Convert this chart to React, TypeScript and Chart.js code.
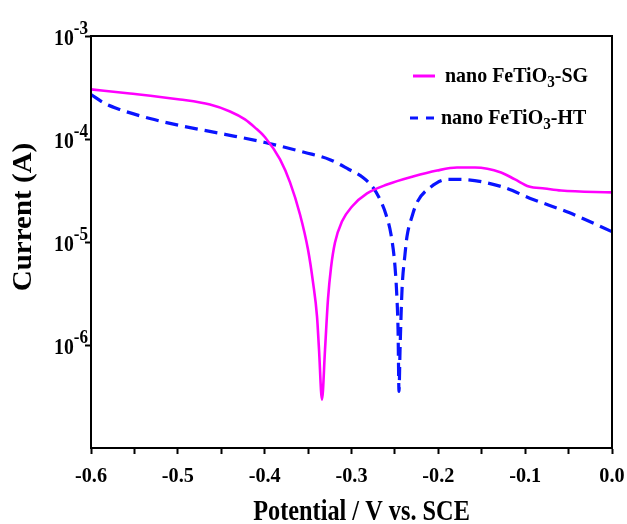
import React, { useEffect, useRef } from 'react';
import { Chart, registerables } from 'chart.js';

Chart.register(...registerables);

// ---- data ----
const sgPotential = [-0.6, -0.5551, -0.4975, -0.463, -0.4399, -0.4227, -0.4111, -0.3996, -0.3823, -0.3708, -0.3593, -0.3501, -0.3443, -0.3397, -0.3374, -0.334, -0.3305, -0.3271, -0.3236, -0.319, -0.311, -0.2994, -0.2821, -0.2591, -0.2292, -0.2015, -0.1785, -0.1578, -0.1278, -0.1117, -0.0956, -0.0775, -0.0587, 0.0];
const sgCurrent = [3.03e-4, 2.77e-4, 2.42e-4, 2.16e-4, 1.85e-4, 1.55e-4, 1.29e-4, 1.04e-4, 6.33e-5, 3.79e-5, 1.85e-5, 8.45e-6, 4.05e-6, 1.89e-6, 9.0e-7, 2.95e-7, 9.0e-7, 2.77e-6, 5.65e-6, 9.9e-6, 1.58e-5, 2.21e-5, 2.96e-5, 3.61e-5, 4.32e-5, 4.94e-5, 5.28e-5, 5.28e-5, 4.73e-5, 4.05e-5, 3.46e-5, 3.31e-5, 3.16e-5, 3.03e-5];

const htPotential = [-0.6, -0.5839, -0.5666, -0.5321, -0.4975, -0.4457, -0.3996, -0.3536, -0.3248, -0.3029, -0.2868, -0.2752, -0.2672, -0.2603, -0.2545, -0.2499, -0.2476, -0.2464, -0.2453, -0.2441, -0.2418, -0.2384, -0.2361, -0.2303, -0.2246, -0.2096, -0.19, -0.175, -0.1278, -0.0909, -0.0495, 0.0];
const htCurrent = [2.7e-4, 2.21e-4, 1.93e-4, 1.58e-4, 1.35e-4, 1.11e-4, 9.25e-5, 7.4e-5, 6.3e-5, 5.06e-5, 4.23e-5, 3.38e-5, 2.59e-5, 1.85e-5, 1.18e-5, 5.78e-6, 2.77e-6, 1.42e-6, 3.54e-7, 9.0e-7, 3.46e-6, 7.57e-6, 1.13e-5, 1.77e-5, 2.42e-5, 3.38e-5, 4.05e-5, 4.05e-5, 3.46e-5, 2.59e-5, 1.93e-5, 1.26e-5];

const xMajorTicks = [-0.6, -0.5, -0.4, -0.3, -0.2, -0.1, 0.0];
const xTickLabels = ['-0.6', '-0.5', '-0.4', '-0.3', '-0.2', '-0.1', '0.0'];
const xMinorTicks = [-0.55, -0.45, -0.35, -0.25, -0.15, -0.05];
const yTickValues = [1e-6, 1e-5, 1e-4, 1e-3];
const yTickExponents = ['-6', '-5', '-4', '-3'];

const seriesLabels = ['nano FeTiO\u2083-SG', 'nano FeTiO\u2083-HT'];
const legendParts = [
  { pre: 'nano FeTiO', sub: '3', post: '-SG' },
  { pre: 'nano FeTiO', sub: '3', post: '-HT' },
];
const xTitle = 'Potential / V vs. SCE';
const yTitle = 'Current (A)';

const SG_COLOR = '#ff00ff';
const HT_COLOR = '#0a14ff';
const FONT = '"Liberation Serif", "Times New Roman", serif';

function drawText(ctx: CanvasRenderingContext2D, text: string, x: number, y: number, align: CanvasTextAlign, font: string, sx: number) {
  ctx.save();
  ctx.translate(x, y);
  ctx.scale(sx, 1);
  ctx.font = font;
  ctx.textAlign = align;
  ctx.textBaseline = 'alphabetic';
  ctx.fillStyle = '#000';
  ctx.fillText(text, 0, 0);
  ctx.restore();
}

function measure(ctx: CanvasRenderingContext2D, text: string, font: string, sx: number) {
  ctx.save();
  ctx.font = font;
  const w = ctx.measureText(text).width * sx;
  ctx.restore();
  return w;
}

const decorPlugin = {
  id: 'decor',
  afterDraw(chart: any) {
    const ctx: CanvasRenderingContext2D = chart.ctx;
    const a = chart.chartArea;
    const xs = chart.scales.x;
    const ys = chart.scales.y;

    // frame
    ctx.save();
    ctx.strokeStyle = '#000';
    ctx.lineWidth = 2;
    ctx.strokeRect(a.left, a.top, a.right - a.left, a.bottom - a.top);
    ctx.restore();

    // x tick labels
    const xFont = `bold 22px ${FONT}`;
    xMajorTicks.forEach((v, i) => {
      const px = xs.getPixelForValue(v);
      drawText(ctx, xTickLabels[i], px, a.bottom + 34, 'center', xFont, 0.92);
    });

    // y tick labels 10^n
    const mainFont = `bold 24px ${FONT}`;
    const supFont = `bold 18px ${FONT}`;
    const rightEdge = a.left - 3;
    yTickValues.forEach((v, i) => {
      const py = ys.getPixelForValue(v);
      const supW = measure(ctx, yTickExponents[i], supFont, 0.95);
      drawText(ctx, yTickExponents[i], rightEdge - supW, py - 2, 'left', supFont, 0.95);
      drawText(ctx, '10', rightEdge - supW, py + 9, 'right', mainFont, 0.82);
    });

    // axis titles
    drawText(ctx, xTitle, (a.left + a.right) / 2 + 10, 520, 'center', `bold 30px ${FONT}`, 0.81);
    ctx.save();
    ctx.translate(31, (a.top + a.bottom) / 2 - 25);
    ctx.scale(0.95, 1);
    ctx.rotate(-Math.PI / 2);
    ctx.font = `bold 29px ${FONT}`;
    ctx.textAlign = 'center';
    ctx.textBaseline = 'alphabetic';
    ctx.fillStyle = '#000';
    ctx.fillText(yTitle, 0, 0);
    ctx.restore();

    // legend
    const legFont = `bold 21px ${FONT}`;
    const subFont = `bold 16px ${FONT}`;
    const rows = [
      { y: 76, x0: 413, x1: 435, tx: 445, color: SG_COLOR, dash: [] as number[], lw: 3 },
      { y: 118, x0: 410, x1: 439, tx: 441, color: HT_COLOR, dash: [8, 8], lw: 3 },
    ];
    rows.forEach((r, i) => {
      ctx.save();
      ctx.strokeStyle = r.color;
      ctx.lineWidth = r.lw;
      ctx.setLineDash(r.dash);
      ctx.beginPath();
      ctx.moveTo(r.x0, r.y);
      ctx.lineTo(r.x1, r.y);
      ctx.stroke();
      ctx.restore();
      const p = legendParts[i];
      const sx = 0.95;
      let x = r.tx;
      const base = r.y + 6;
      drawText(ctx, p.pre, x, base, 'left', legFont, sx);
      x += measure(ctx, p.pre, legFont, sx);
      drawText(ctx, p.sub, x, base + 5, 'left', subFont, sx);
      x += measure(ctx, p.sub, subFont, sx);
      drawText(ctx, p.post, x, base, 'left', legFont, sx);
    });
  },
};

export default function App() {
  const ref = useRef<HTMLCanvasElement | null>(null);

  useEffect(() => {
    document.body.style.margin = '0';
    const canvas = ref.current;
    if (!canvas) return;
    const chart = new Chart(canvas, {
      type: 'line',
      data: {
        datasets: [
          {
            label: seriesLabels[0],
            data: sgPotential.map((x, i) => ({ x, y: sgCurrent[i] })),
            borderColor: SG_COLOR,
            borderWidth: 2.6,
            pointRadius: 0,
            cubicInterpolationMode: 'monotone',
            fill: false,
          },
          {
            label: seriesLabels[1],
            data: htPotential.map((x, i) => ({ x, y: htCurrent[i] })),
            borderColor: HT_COLOR,
            borderWidth: 3.2,
            borderDash: [13, 7],
            pointRadius: 0,
            cubicInterpolationMode: 'monotone',
            fill: false,
          },
        ],
      },
      options: {
        responsive: false,
        animation: false,
        parsing: false as any,
        layout: { padding: { left: 0, top: 36, right: 15, bottom: 0 } },
        plugins: {
          legend: { display: false },
          tooltip: { enabled: false },
          title: { display: false },
        },
        scales: {
          x: {
            type: 'linear',
            min: -0.6,
            max: 0.0,
            afterBuildTicks: (scale: any) => {
              scale.ticks = [...xMajorTicks, ...xMinorTicks].sort((p, q) => p - q).map((v) => ({ value: v }));
            },
            afterFit: (scale: any) => {
              scale.height = 76;
            },
            ticks: { display: false },
            grid: {
              display: true,
              drawOnChartArea: false,
              drawTicks: true,
              tickLength: 6,
              tickWidth: 2,
              tickColor: '#000',
            },
            border: { display: true, color: '#000', width: 2 },
          },
          y: {
            type: 'logarithmic',
            min: 1e-7,
            max: 1e-3,
            afterBuildTicks: (scale: any) => {
              scale.ticks = yTickValues.map((v) => ({ value: v }));
            },
            afterFit: (scale: any) => {
              scale.width = 91;
            },
            ticks: { display: false },
            grid: {
              display: true,
              drawOnChartArea: false,
              drawTicks: true,
              tickLength: 6,
              tickWidth: 2,
              tickColor: '#000',
            },
            border: { display: true, color: '#000', width: 2 },
          },
        },
      },
      plugins: [decorPlugin],
    });
    return () => chart.destroy();
  }, []);

  return (
    <div style={{ width: 627, height: 524, background: '#fff' }}>
      <canvas ref={ref} width={627} height={524} style={{ display: 'block' }} />
    </div>
  );
}
